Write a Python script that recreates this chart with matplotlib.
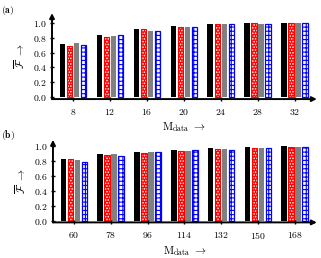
import numpy as np
import matplotlib
matplotlib.use("Agg")
import matplotlib.pyplot as plt

plt.rcParams['mathtext.fontset'] = 'cm'
plt.rcParams['font.family'] = 'serif'
plt.rcParams['hatch.linewidth'] = 0.8

# ---- data ----
m_a = ['8', '12', '16', '20', '24', '28', '32']
a_black = [0.716, 0.831, 0.916, 0.960, 0.978, 0.991, 1.000]
a_red = [0.693, 0.804, 0.911, 0.938, 0.978, 0.991, 1.000]
a_gray = [0.729, 0.827, 0.884, 0.942, 0.982, 0.982, 1.000]
a_blue = [0.698, 0.836, 0.884, 0.938, 0.982, 0.982, 1.000]

m_b = ['60', '78', '96', '114', '132', '150', '168']
b_black = [0.825, 0.888, 0.915, 0.942, 0.969, 0.987, 0.996]
b_red = [0.830, 0.883, 0.910, 0.937, 0.964, 0.978, 0.991]
b_gray = [0.816, 0.892, 0.928, 0.937, 0.960, 0.969, 0.991]
b_blue = [0.789, 0.861, 0.919, 0.942, 0.951, 0.978, 0.991]

yticks = [0.0, 0.2, 0.4, 0.6, 0.8, 1.0]


def draw_panel(ax, cats, black, red, gray, blue, ytop):
    x = np.arange(len(cats))
    w = 0.15
    pitch = 0.19
    offs = np.array([-1.5, -0.5, 0.5, 1.5]) * pitch
    ax.bar(x + offs[0], black, w, color='black', linewidth=0)
    # red bar with white dots: hatch colour follows edgecolor, so draw twice
    ax.bar(x + offs[1], red, w, color='red', edgecolor='white',
           hatch='......', linewidth=0)
    ax.bar(x + offs[1], red, w, color='none', edgecolor='red', linewidth=0.8)
    ax.bar(x + offs[2], gray, w, color='gray', linewidth=0)
    ax.bar(x + offs[3], blue, w, color='white', edgecolor='blue',
           hatch='++++', linewidth=0.9)

    ax.set_xlim(-0.57, 6.6)
    ax.set_ylim(-0.025, ytop)
    for s in ax.spines.values():
        s.set_visible(False)
    # arrowed axes
    ax.annotate('', xy=(1, 0), xytext=(0, 0), xycoords='axes fraction',
                arrowprops=dict(arrowstyle='-|>', lw=1.4, color='black',
                                mutation_scale=7, shrinkA=0, shrinkB=0))
    ax.annotate('', xy=(0, 1), xytext=(0, 0), xycoords='axes fraction',
                arrowprops=dict(arrowstyle='-|>', lw=1.4, color='black',
                                mutation_scale=7, shrinkA=0, shrinkB=0))
    ax.set_xticks(x)
    ax.set_xticklabels([r'$\mathbf{%s}$' % c for c in cats], fontsize=7)
    ax.set_yticks(yticks)
    ax.set_yticklabels([r'$\mathbf{%.1f}$' % v for v in yticks], fontsize=7)
    ax.tick_params(direction='inout', length=3.5, width=1.0, pad=2)
    ax.tick_params(axis='x', pad=4)
    ax.set_ylabel(r'$\overline{\mathcal{F}}\ \rightarrow$', fontsize=8, labelpad=4)
    ax.set_xlabel(r'$\mathrm{M}_{\mathrm{data}}\ \rightarrow$', fontsize=8, labelpad=2)


fig = plt.figure(figsize=(3.21, 2.58), dpi=100)
ax1 = fig.add_axes([0.162, 0.616, 0.825, 0.333])
ax2 = fig.add_axes([0.165, 0.138, 0.822, 0.32])

draw_panel(ax1, m_a, a_black, a_red, a_gray, a_blue, 1.13)
draw_panel(ax2, m_b, b_black, b_red, b_gray, b_blue, 1.085)

fig.text(0.004, 0.985, r'$\mathbf{(a)}$', fontsize=7, va='top', ha='left')
fig.text(0.004, 0.505, r'$\mathbf{(b)}$', fontsize=7, va='top', ha='left')

fig.savefig('out.png', dpi=100)
